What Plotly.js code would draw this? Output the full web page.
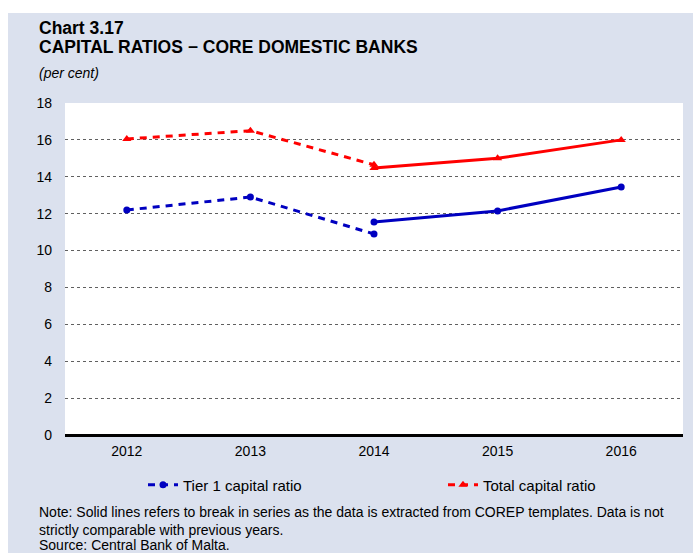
<!DOCTYPE html>
<html>
<head>
<meta charset="utf-8">
<script src="https://cdn.plot.ly/plotly-3.0.1.min.js"></script>
<style>
  html, body { margin: 0; padding: 0; background: #ffffff; }
  #chart { position: absolute; left: 8px; top: 13px; width: 685px; height: 540px; }
</style>
</head>
<body>
<div id="chart"></div>
<script>
// Data
const years = ['2012', '2013', '2014', '2015', '2016'];
const yearsOld = ['2012', '2013', '2014'];
const yearsNew = ['2014', '2015', '2016'];
const tier1Old = [12.2, 12.9, 10.9];
const tier1New = [11.55, 12.15, 13.45];
const totalOld = [16.05, 16.5, 14.65];
const totalNew = [14.47, 15.0, 16.0];
const yTicks = [0, 2, 4, 6, 8, 10, 12, 14, 16, 18];

const W = 685, H = 540, ML = 57, MR = 10, MT = 90, MB = 118;
const PW = W - ML - MR, PH = H - MT - MB;
const px = (x) => (x - ML) / PW;
const py = (y) => (H - MB - y) / PH;

const BLUE = '#0000c0', RED = '#ff0000';
const FONT = 'Liberation Sans, Arial, sans-serif';

const traces = [
  { x: yearsOld, y: tier1Old, name: 'Tier 1 capital ratio', type: 'scatter', mode: 'lines+markers', legend: 'legend',
    line: { color: BLUE, width: 3, dash: '7px,6px' }, marker: { symbol: 'circle', size: 7, color: BLUE } },
  { x: yearsNew, y: tier1New, name: 'Tier 1 capital ratio', type: 'scatter', mode: 'lines+markers', showlegend: false,
    line: { color: BLUE, width: 3 }, marker: { symbol: 'circle', size: 7, color: BLUE } },
  { x: yearsOld, y: totalOld, name: 'Total capital ratio', type: 'scatter', mode: 'lines+markers', legend: 'legend2',
    line: { color: RED, width: 3, dash: '7px,6px' }, marker: { symbol: 'triangle-up', size: 8, color: RED } },
  { x: yearsNew, y: totalNew, name: 'Total capital ratio', type: 'scatter', mode: 'lines+markers', showlegend: false,
    line: { color: RED, width: 3 }, marker: { symbol: 'triangle-up', size: 8, color: RED } }
];

const txt = (text, x, y, size, extra) => Object.assign({
  text: text, xref: 'paper', yref: 'paper', x: px(x), y: py(y), xanchor: 'left', yanchor: 'middle',
  showarrow: false, align: 'left', font: { family: FONT, size: size, color: '#000000' }
}, extra || {});

const legendStyle = (x) => ({
  orientation: 'h', x: px(x), y: py(472), xanchor: 'left', yanchor: 'middle',
  bgcolor: 'rgba(0,0,0,0)', font: { family: FONT, size: 15, color: '#000000' }, itemwidth: 30
});

const layout = {
  width: W, height: H,
  margin: { l: ML, r: MR, t: MT, b: MB, pad: 0 },
  paper_bgcolor: '#dbe1ee',
  plot_bgcolor: '#ffffff',
  font: { family: FONT, size: 14, color: '#000000' },
  showlegend: true,
  legend: legendStyle(135),
  legend2: legendStyle(435),
  xaxis: {
    type: 'category', categoryorder: 'array', categoryarray: years,
    range: [-0.5, 4.5], showgrid: false, zeroline: false, showline: false,
    ticks: '', tickfont: { family: FONT, size: 14 }, ticklabelstandoff: 6, fixedrange: true
  },
  yaxis: {
    range: [0, 18], tickvals: yTicks, ticktext: yTicks.map(String),
    showgrid: true, gridcolor: '#606060', gridwidth: 1, griddash: 'dot',
    zeroline: true, zerolinecolor: '#000000', zerolinewidth: 3,
    showline: false, ticks: '', ticklabelstandoff: 12,
    tickfont: { family: FONT, size: 14 }, fixedrange: true
  },
  annotations: [
    txt('<b>Chart 3.17</b>', 29, 15, 17.5),
    txt('<b>CAPITAL RATIOS \u2212 CORE DOMESTIC BANKS</b>', 29, 34, 17.5),
    txt('<i>(per cent)</i>', 29, 60, 14),
    txt('Note: Solid lines refers to break in series as the data is extracted from COREP templates. Data is not', 29, 499, 14),
    txt('strictly comparable with previous years.', 29, 517, 14),
    txt('Source: Central Bank of Malta.', 29, 532, 14)
  ]
};

Plotly.newPlot('chart', traces, layout, { displayModeBar: false, staticPlot: true });
</script>
</body>
</html>
